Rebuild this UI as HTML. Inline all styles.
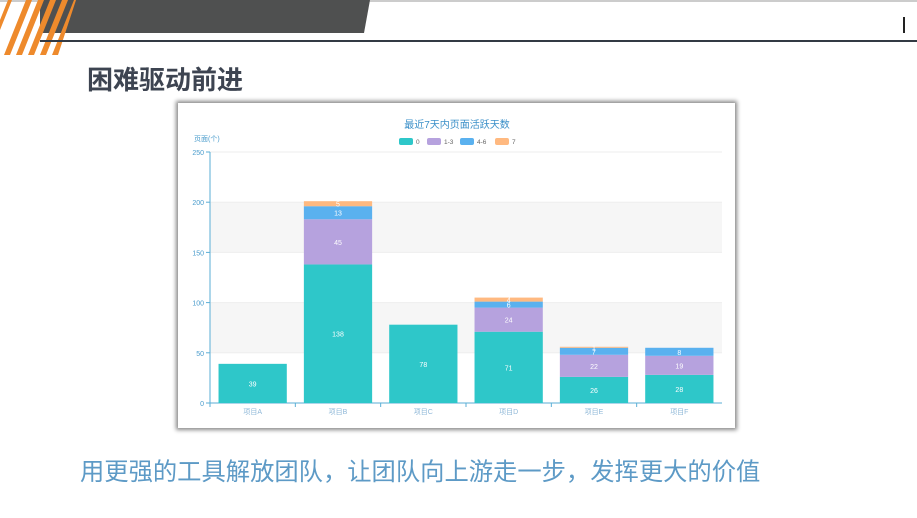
<!DOCTYPE html>
<html><head><meta charset="utf-8"><style>
body{margin:0;width:917px;height:518px;background:#fff;overflow:hidden;position:relative;font-family:"Liberation Sans","Noto Sans CJK SC",sans-serif}
.abs{position:absolute}
</style></head><body>
<svg class="abs" style="left:0;top:0" width="917" height="60">
<rect x="0" y="0" width="917" height="2" fill="#ccc"/>
<polygon points="40,0 370,0 364,33 40,33" fill="#4f5050"/>
<g fill="#ee8a2c">
<polygon points="0,20 8,0 12,0 0,30"/>
<polygon points="4,55 26,0 32,0 10,55"/>
<polygon points="16,55 38,0 44,0 22,55"/>
<polygon points="28,55 50,0 56,0 34,55"/>
<polygon points="40,55 62,0 68,0 46,55"/>
<polygon points="52,55 74,0 76,0 58,55"/>
</g>
<rect x="40" y="40" width="877" height="2" fill="#333a44"/>
<rect x="903" y="17" width="2" height="16" fill="#222"/>
</svg>
<div class="abs" style="left:87px;top:60px;font-size:26px;font-weight:bold;color:#3d4451;font-family:'Noto Sans CJK SC',sans-serif">困难驱动前进</div>
<div class="abs" style="left:178px;top:103px;width:557px;height:325px;background:#fff;box-shadow:0 0 4px 2px #888"></div>
<svg id="chart" class="abs" style="left:0;top:0" width="917" height="518"></svg>
<div class="abs" style="left:80px;top:452px;font-size:24.3px;color:#5d9ac6;font-family:'Noto Sans CJK SC',sans-serif;white-space:nowrap">用更强的工具解放团队，让团队向上游走一步，发挥更大的价值</div>
<script>
const categories=["项目A","项目B","项目C","项目D","项目E","项目F"];
const seriesNames=["0","1-3","4-6","7"];
const s0=[39,138,78,71,26,28];
const s1=[0,45,0,24,22,19];
const s2=[0,13,0,6,7,8];
const s3=[0,5,0,4,1,0];
const yTicks=[0,50,100,150,200,250];
const colors=["#2ec7c9","#b6a2de","#5ab1ef","#ffb980"];
const svg=document.getElementById('chart');
const NS='http://www.w3.org/2000/svg';
const X0=210,X1=722,Y0=403,Y1=152,YMAX=250;
const y=v=>Y0-(v/YMAX)*(Y0-Y1);
const band=(X1-X0)/categories.length;
const bx=i=>X0+band*i;
function mk(t,a,txt){const e=document.createElementNS(NS,t);for(const k in a)e.setAttribute(k,a[k]);if(txt!==undefined)e.textContent=txt;svg.appendChild(e);return e;}
// bands
for(let i=0;i<yTicks.length-1;i++){
 if(i%2===1){const b=mk('rect',{x:X0,y:y(yTicks[i+1]),width:X1-X0,height:y(yTicks[i])-y(yTicks[i+1]),fill:'#f6f6f6'});
 
 }
}
yTicks.forEach(v=>{
 const g=mk('line',{x1:X0,x2:X1,y1:y(v),y2:y(v),stroke:'#eee'});
 
 
 const tk=mk('line',{x1:X0-4,x2:X0,y1:y(v),y2:y(v),stroke:'#5aaed6'});
 
 
 const t=mk('text',{x:X0-6,y:y(v)+3,'text-anchor':'end','font-size':7,fill:'#4a9ccc'},v);
 
 
});
const ax=mk('line',{x1:X0,x2:X0,y1:Y1,y2:Y0,stroke:'#5aaed6'});


const xa=mk('line',{x1:X0,x2:X1,y1:Y0,y2:Y0,stroke:'#5aaed6'});


const yt=mk('text',{x:194,y:141,'font-size':7,fill:'#4a9ccc'},'页面(个)');


const series=[s0,s1,s2,s3];
const bw=band*0.8;
categories.forEach((c,i)=>{
 let acc=0;
 series.forEach((s,k)=>{
  const v=s[i]; if(!v) return;
  const r=mk('rect',{x:bx(i)+(band-bw)/2,y:y(acc+v),width:bw,height:y(acc)-y(acc+v),fill:colors[k]});
  
  
  const l=mk('text',{x:bx(i)+band/2,y:(y(acc)+y(acc+v))/2+3,'text-anchor':'middle','font-size':7,fill:'#fff'},v);
  
  
  acc+=v;
 });
 const tk=mk('line',{x1:bx(i),x2:bx(i),y1:Y0,y2:Y0+4,stroke:'#5aaed6'});
 
 
 const t=mk('text',{x:bx(i)+band/2,y:Y0+11,'text-anchor':'middle','font-size':7,fill:'#8fb8d8'},c);
 
 
});
const title=mk('text',{x:457,y:128,'text-anchor':'middle','font-size':10,fill:'#3a8fc8'},'最近7天内页面活跃天数');


const lx=[399,427,460,495];
seriesNames.forEach((n,k)=>{
 const r=mk('rect',{x:lx[k],y:138,width:14,height:7,rx:2,fill:colors[k]});
 
 
 const t=mk('text',{x:lx[k]+17,y:144,'font-size':6.5,fill:'#666'},n);
 
 
});
</script>
</body></html>
